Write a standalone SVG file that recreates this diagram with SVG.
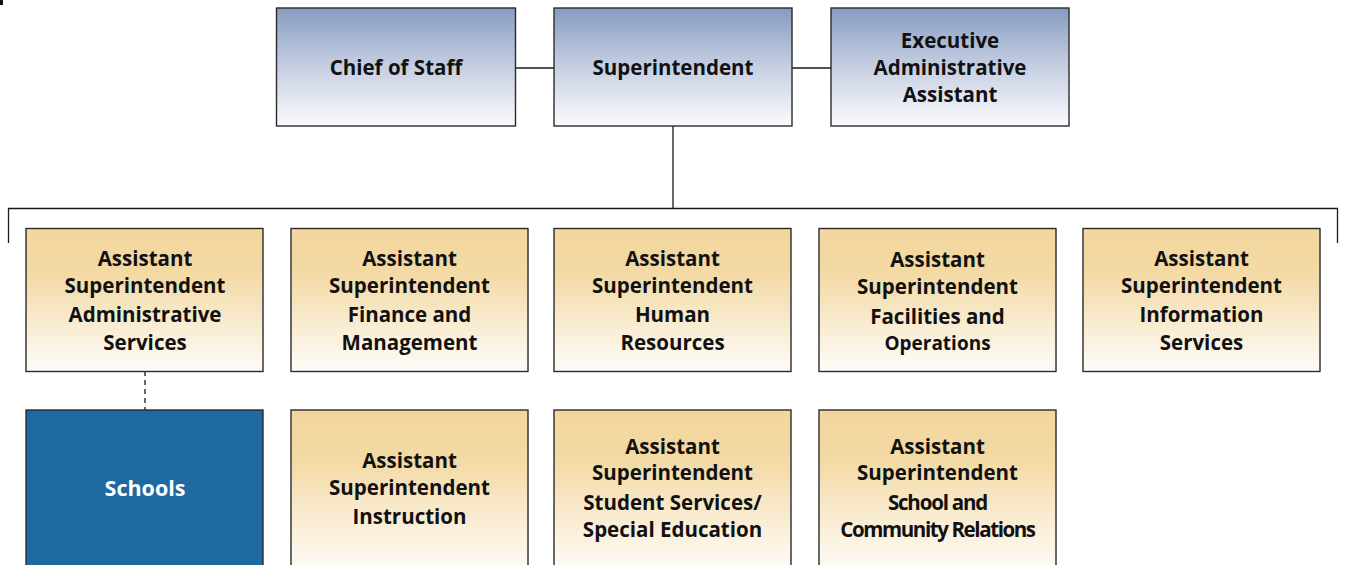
<svg xmlns="http://www.w3.org/2000/svg" width="1347" height="565" viewBox="0 0 1347 565">
<defs>
<linearGradient id="gBlue" x1="0" y1="0" x2="0" y2="1">
<stop offset="0" stop-color="#879bc1"/>
<stop offset="0.45" stop-color="#c0cadf"/>
<stop offset="1" stop-color="#fbfbfd"/>
</linearGradient>
<linearGradient id="gTan" x1="0" y1="0" x2="0" y2="1">
<stop offset="0" stop-color="#f2d69e"/>
<stop offset="0.3" stop-color="#f3d9a3"/>
<stop offset="1" stop-color="#fefcf9"/>
</linearGradient>
</defs>
<style>
.top{fill:url(#gBlue);stroke:#2b2b2b;stroke-width:1.4}
.asst{fill:url(#gTan);stroke:#2b2b2b;stroke-width:1.4}
.sch{fill:#1e6aa0;stroke:#2b2b2b;stroke-width:1.4}
text{font-family:"Open Sans","Liberation Sans",sans-serif;font-weight:bold;font-size:20.5px;fill:#111;text-anchor:middle}
.w{fill:#fff;font-size:21.5px}
.con line,.con path{stroke:#1a1a1a;stroke-width:1.3;fill:none}
.dash{stroke-dasharray:5,4}
</style>
<rect x="0" y="0" width="3" height="5" fill="#111"/>
<g class="con" id="connectors">
<line x1="515" y1="68" x2="554" y2="68"/>
<line x1="792" y1="68" x2="831" y2="68"/>
<line x1="673" y1="126" x2="673" y2="208"/>
<path d="M8.5,243 V208.5 H1337.5 V243"/>
<line class="dash" x1="145" y1="371" x2="145" y2="410"/>
</g>
<g id="chief"><rect class="top" x="276.5" y="8" width="239" height="118"/><text x="396" y="75">Chief of Staff</text></g>
<g id="super"><rect class="top" x="554" y="8" width="238" height="118"/><text x="673" y="75">Superintendent</text></g>
<g id="exec"><rect class="top" x="831" y="8" width="238" height="118"/><text x="950" y="48">Executive</text><text x="950" y="75">Administrative</text><text x="950" y="102">Assistant</text></g>
<g id="admin"><rect class="asst" x="26" y="228.5" width="237" height="143"/><text x="145" y="266">Assistant</text><text x="145" y="293">Superintendent</text><text x="145" y="322">Administrative</text><text x="145" y="350">Services</text></g>
<g id="finance"><rect class="asst" x="291" y="228.5" width="237" height="143"/><text x="409.5" y="266">Assistant</text><text x="409.5" y="293">Superintendent</text><text x="409.5" y="322">Finance and</text><text x="409.5" y="350">Management</text></g>
<g id="hr"><rect class="asst" x="554" y="228.5" width="237" height="143"/><text x="672.5" y="266">Assistant</text><text x="672.5" y="293">Superintendent</text><text x="672.5" y="322">Human</text><text x="672.5" y="350">Resources</text></g>
<g id="facilities"><rect class="asst" x="819" y="228.5" width="237" height="143"/><text x="937.5" y="267">Assistant</text><text x="937.5" y="294">Superintendent</text><text x="937.5" y="324">Facilities and</text><text x="937.5" y="350" style="font-size:19px">Operations</text></g>
<g id="info"><rect class="asst" x="1083" y="228.5" width="237" height="143"/><text x="1201.5" y="266">Assistant</text><text x="1201.5" y="293">Superintendent</text><text x="1201.5" y="322">Information</text><text x="1201.5" y="350">Services</text></g>
<g id="schools"><rect class="sch" x="26" y="410" width="237" height="160"/><text class="w" x="145" y="496">Schools</text></g>
<g id="instruction"><rect class="asst" x="291" y="410" width="237" height="160"/><text x="409.5" y="468">Assistant</text><text x="409.5" y="495">Superintendent</text><text x="409.5" y="524">Instruction</text></g>
<g id="student"><rect class="asst" x="554" y="410" width="237" height="160"/><text x="672.5" y="454">Assistant</text><text x="672.5" y="480">Superintendent</text><text x="672.5" y="510">Student Services/</text><text x="672.5" y="537">Special Education</text></g>
<g id="community"><rect class="asst" x="819" y="410" width="237" height="160"/><text x="937.5" y="454">Assistant</text><text x="937.5" y="480">Superintendent</text><text x="937.5" y="510" style="letter-spacing:-1.2px">School and</text><text x="937.5" y="537" style="letter-spacing:-1.4px">Community Relations</text></g>
</svg>
